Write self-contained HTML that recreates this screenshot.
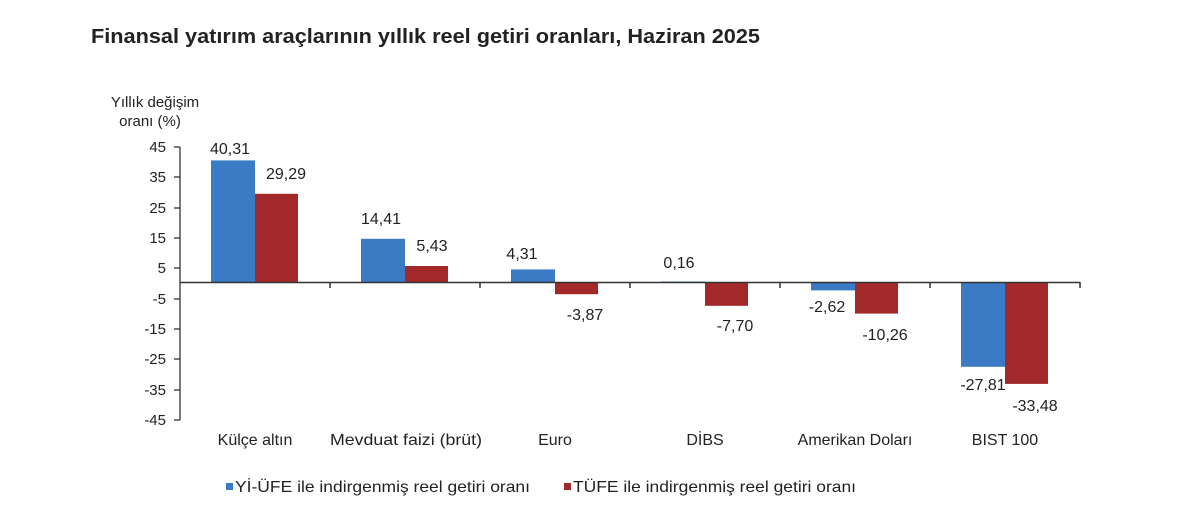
<!DOCTYPE html>
<html><head><meta charset="utf-8"><style>
body{margin:0;background:#fff;width:1200px;height:527px;overflow:hidden}
svg{display:block}
text{font-family:"Liberation Sans",Arial,sans-serif;fill:#222}
</style></head><body>
<svg width="1200" height="527" viewBox="0 0 1200 527">
<text x="91" y="43" font-size="20.5" font-weight="bold" fill="#000" textLength="669" lengthAdjust="spacingAndGlyphs">Finansal yatırım araçlarının yıllık reel getiri oranları, Haziran 2025</text>
<text x="155" y="107" font-size="15" text-anchor="middle">Yıllık değişim</text>
<text x="150" y="126" font-size="15" text-anchor="middle">oranı (%)</text>
<g font-size="15" text-anchor="end">
<text x="166" y="152">45</text><text x="166" y="182">35</text><text x="166" y="213">25</text><text x="166" y="243">15</text><text x="166" y="273">5</text><text x="166" y="304">-5</text><text x="166" y="334">-15</text><text x="166" y="364">-25</text><text x="166" y="395">-35</text><text x="166" y="425">-45</text>
</g>
<g stroke="#333" stroke-width="1.3">
<line x1="180" y1="147" x2="180" y2="420"/>
<line x1="174" y1="147" x2="180" y2="147"/><line x1="174" y1="177" x2="180" y2="177"/><line x1="174" y1="208" x2="180" y2="208"/><line x1="174" y1="238" x2="180" y2="238"/><line x1="174" y1="268" x2="180" y2="268"/><line x1="174" y1="299" x2="180" y2="299"/><line x1="174" y1="329" x2="180" y2="329"/><line x1="174" y1="359" x2="180" y2="359"/><line x1="174" y1="390" x2="180" y2="390"/><line x1="174" y1="420" x2="180" y2="420"/>
</g>
<g fill="#3b7bc6">
<rect x="211" y="160.4" width="44" height="122.1"/>
<rect x="361" y="238.8" width="44" height="43.7"/>
<rect x="511" y="269.4" width="44" height="13.1"/>
<rect x="661" y="281.5" width="44" height="1.2"/>
<rect x="811" y="282.5" width="44" height="7.9"/>
<rect x="961" y="282.5" width="44" height="84.3"/>
</g>
<g fill="#a3282a">
<rect x="255" y="193.8" width="43" height="88.7"/>
<rect x="405" y="266" width="43" height="16.5"/>
<rect x="555" y="282.5" width="43" height="11.7"/>
<rect x="705" y="282.5" width="43" height="23.3"/>
<rect x="855" y="282.5" width="43" height="31.1"/>
<rect x="1005" y="282.5" width="43" height="101.4"/>
</g>
<g stroke="#333" stroke-width="1.5">
<line x1="180" y1="282.5" x2="1080" y2="282.5"/>
<line x1="330" y1="282" x2="330" y2="288"/><line x1="480" y1="282" x2="480" y2="288"/><line x1="630" y1="282" x2="630" y2="288"/><line x1="780" y1="282" x2="780" y2="288"/><line x1="930" y1="282" x2="930" y2="288"/><line x1="1080" y1="282" x2="1080" y2="288"/>
</g>
<g font-size="16" text-anchor="middle">
<text x="230" y="154">40,31</text><text x="286" y="179">29,29</text>
<text x="381" y="224">14,41</text><text x="432" y="251">5,43</text>
<text x="522" y="259">4,31</text><text x="585" y="320">-3,87</text>
<text x="679" y="268">0,16</text><text x="735" y="331">-7,70</text>
<text x="827" y="312">-2,62</text><text x="885" y="340">-10,26</text>
<text x="983" y="390">-27,81</text><text x="1035" y="411">-33,48</text>
</g>
<g font-size="16" text-anchor="middle">
<text x="255" y="445">Külçe altın</text><text x="406" y="445" textLength="152" lengthAdjust="spacingAndGlyphs">Mevduat faizi (brüt)</text><text x="555" y="445">Euro</text><text x="705" y="445">DİBS</text><text x="855" y="445">Amerikan Doları</text><text x="1005" y="445">BIST 100</text>
</g>
<rect x="226" y="483" width="7" height="7" fill="#3b7bc6"/>
<text x="235" y="492" font-size="16" textLength="295" lengthAdjust="spacingAndGlyphs">Yİ-ÜFE ile indirgenmiş reel getiri oranı</text>
<rect x="564" y="483" width="7" height="7" fill="#a3282a"/>
<text x="573" y="492" font-size="16" textLength="283" lengthAdjust="spacingAndGlyphs">TÜFE ile indirgenmiş reel getiri oranı</text>
</svg>
</body></html>
